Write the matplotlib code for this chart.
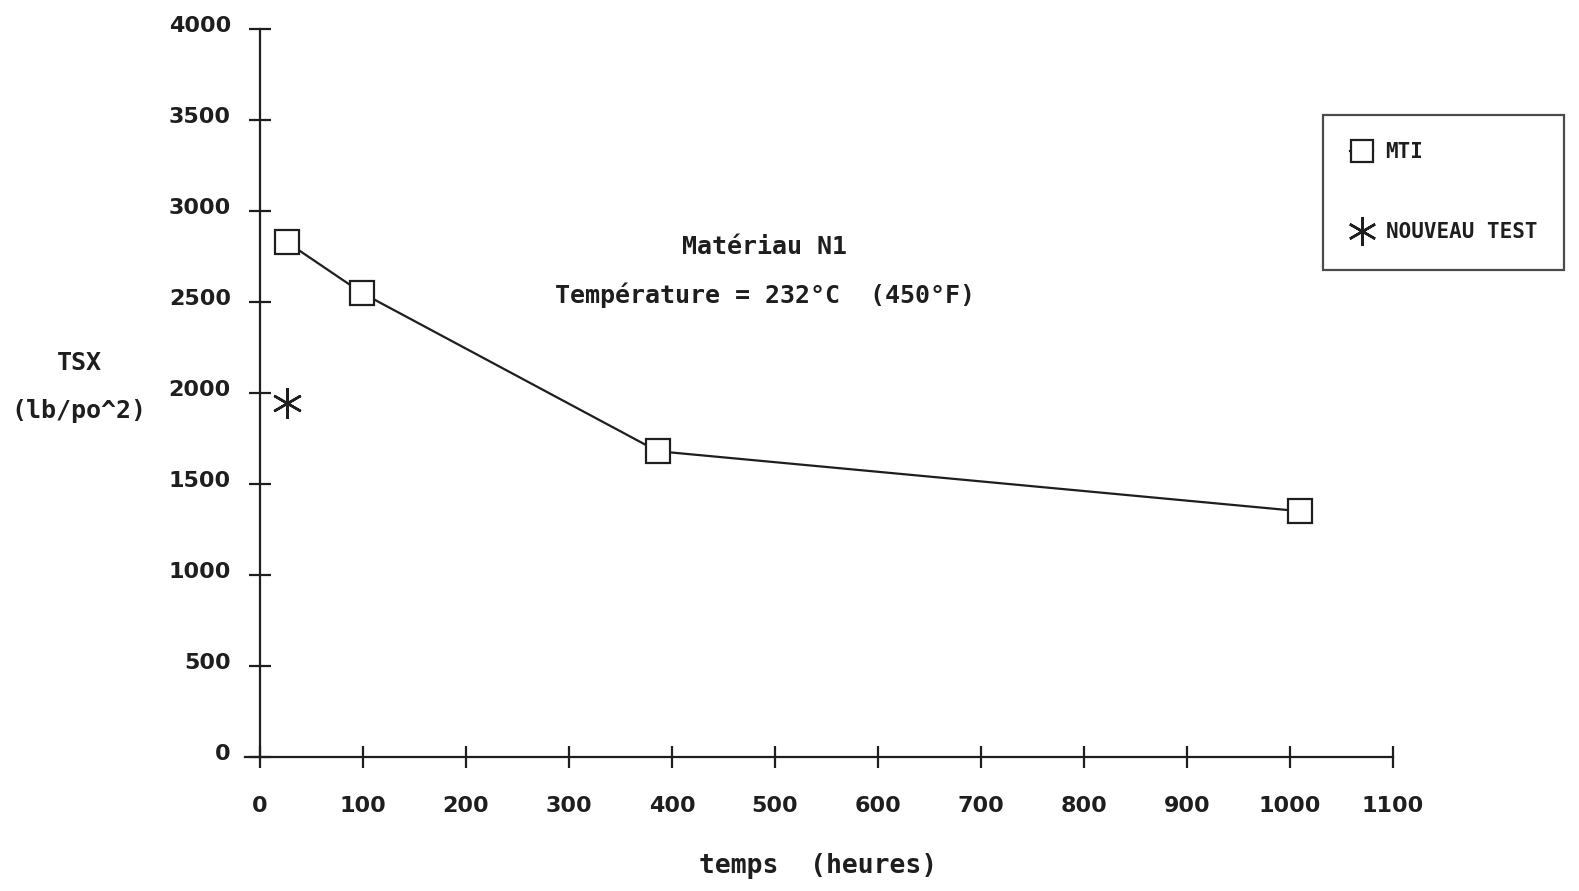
import numpy as np
import matplotlib
matplotlib.use("Agg")
import matplotlib.pyplot as plt
import matplotlib.transforms as mtransforms

# data
mti_hours = [26, 99, 386, 1010]
mti_tsx = [2830, 2550, 1680, 1350]
new_hours = [26]
new_tsx = [1945]

x_ticks = [0, 100, 200, 300, 400, 500, 600, 700, 800, 900, 1000, 1100]
y_ticks = [0, 500, 1000, 1500, 2000, 2500, 3000, 3500, 4000]

ink = '#1e1e1e'
mono = 'DejaVu Sans Mono'

fig = plt.figure(figsize=(15.79, 8.91), dpi=100)
ax = fig.add_axes([0.1647, 0.1507, 0.7175, 0.8164])

ax.plot(mti_hours, mti_tsx, color=ink, lw=1.6, marker='s', markersize=17,
        markerfacecolor='white', markeredgecolor=ink, markeredgewidth=1.6,
        label='MTI')
ax.plot(new_hours, new_tsx, ls='none', marker=(6, 2, 0), markersize=22,
        markeredgecolor=ink, markeredgewidth=1.8, color=ink,
        label='NOUVEAU TEST')

ax.set_xlim(0, 1100)
ax.set_ylim(0, 4000)
ax.set_xticks(x_ticks)
ax.set_yticks(y_ticks)
ax.set_xticklabels([str(v) for v in x_ticks], fontsize=16, fontweight='bold')
ax.set_yticklabels([str(v) for v in y_ticks], fontsize=16, fontweight='bold')
ax.tick_params(axis='both', direction='inout', length=16, width=1.6, color=ink,
               labelcolor=ink)
ax.tick_params(axis='y', pad=13)
ax.tick_params(axis='x', pad=20)

for s in ['top', 'right']:
    ax.spines[s].set_visible(False)
for s in ['left', 'bottom']:
    ax.spines[s].set_color(ink)
    ax.spines[s].set_linewidth(1.6)
ax.spines['bottom'].set_bounds(-15, 1100)

# shift y tick labels a bit upward like the original
off = mtransforms.ScaledTranslation(0, 5 / 100, fig.dpi_scale_trans)
for lab in ax.get_yticklabels():
    lab.set_transform(lab.get_transform() + off)

fig.text(765 / 1579, 1 - 247 / 891, 'Matériau N1', ha='center', va='center',
         fontsize=18, family=mono, fontweight='bold', color=ink)
fig.text(765 / 1579, 1 - 295 / 891, 'Température = 232°C  (450°F)', ha='center',
         va='center', fontsize=18, family=mono, fontweight='bold', color=ink)

fig.text(79 / 1579, 1 - 363 / 891, 'TSX', ha='center', va='center',
         fontsize=18, family=mono, fontweight='bold', color=ink)
fig.text(79 / 1579, 1 - 411 / 891, '(lb/po^2)', ha='center', va='center',
         fontsize=18, family=mono, fontweight='bold', color=ink)
fig.text(818 / 1579, 1 - 866 / 891, 'temps  (heures)', ha='center', va='center',
         fontsize=19, family=mono, fontweight='bold', color=ink)

leg = ax.legend(loc='upper left', bbox_to_anchor=(1323 / 1579, 1 - 115 / 891),
                bbox_transform=fig.transFigure, fancybox=False, edgecolor=ink,
                frameon=True, handlelength=1.1, handletextpad=0.6,
                labelspacing=2.9, borderpad=1.3, borderaxespad=0,
                prop={'family': mono, 'size': 15, 'weight': 'bold'},
                markerscale=0.95)
leg.get_frame().set_linewidth(1.6)
for t in leg.get_texts():
    t.set_color(ink)

fig.savefig('out.png', dpi=100, facecolor='white')
